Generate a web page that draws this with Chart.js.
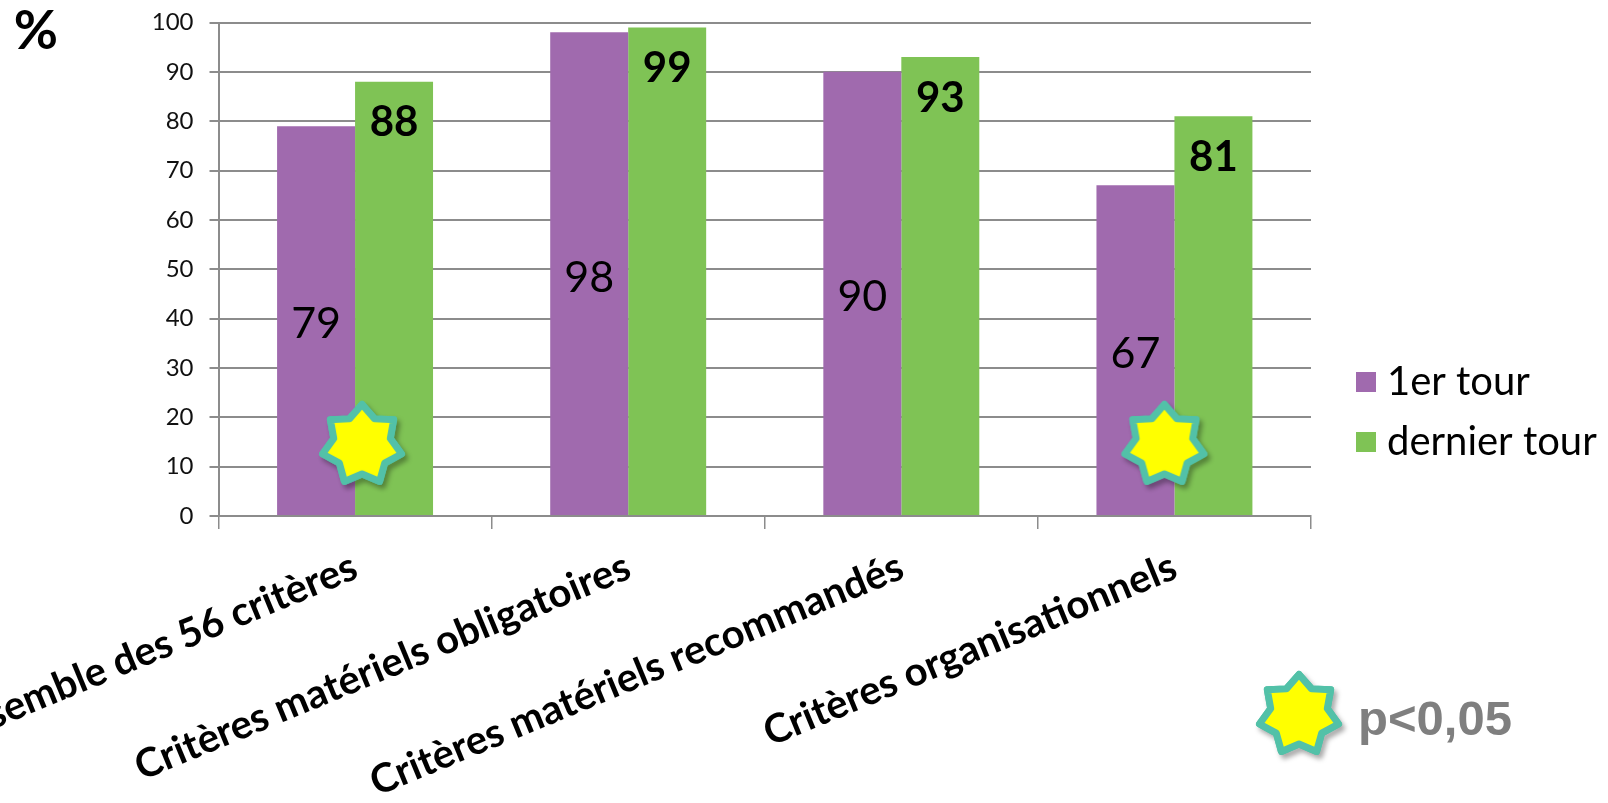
<!DOCTYPE html>
<html>
<head>
<meta charset="utf-8">
<title>Critères</title>
<script src="https://cdn.jsdelivr.net/npm/chart.js@4/dist/chart.umd.min.js"></script>
<style>
  body { margin: 0; background: #fff; }
  canvas { display: block; }
</style>
</head>
<body>
<canvas id="myChart" width="1608" height="803"></canvas>
<script>
const categories = [
  'Ensemble des 56 critères',
  'Critères matériels obligatoires',
  'Critères matériels recommandés',
  'Critères organisationnels'
];
const premierTour = [79, 98, 90, 67];
const dernierTour = [88, 99, 93, 81];
const yTicks = [0, 10, 20, 30, 40, 50, 60, 70, 80, 90, 100];

// height of the stars on the categories with a significant difference
const starValues = [14.4, null, null, 14.4];

const PURPLE = '#a06aae';
const GREEN = '#7fc355';
const GRID = '#8c8c8c';
const FONT = 'Lato';

// seven pointed star, dx moves it sideways from the point it is drawn on
function makeStar(dx) {
  const c = document.createElement('canvas');
  c.width = 140;
  c.height = 110;
  const g = c.getContext('2d');
  g.translate(70 + dx, 55);
  g.beginPath();
  for (let i = 0; i < 14; i++) {
    const r = i % 2 ? 29 : 40.5;
    const a = i * Math.PI / 7;
    g.lineTo(r * Math.sin(a), -r * Math.cos(a));
  }
  g.closePath();
  g.shadowColor = 'rgba(0,0,0,0.35)';
  g.shadowBlur = 5;
  g.shadowOffsetX = 3;
  g.shadowOffsetY = 4;
  g.lineJoin = 'round';
  g.lineWidth = 7;
  g.strokeStyle = '#52c1a8';
  g.stroke();
  g.shadowColor = 'transparent';
  g.fillStyle = '#ffff00';
  g.fill();
  g.stroke();
  return c;
}

function makeSquare(color) {
  const c = document.createElement('canvas');
  c.width = 20;
  c.height = 20;
  const g = c.getContext('2d');
  g.fillStyle = color;
  g.fillRect(0, 0, 20, 20);
  return c;
}

const keyStar = makeStar(0);

// value labels in the bars, the % sign and the p value key
const extras = {
  id: 'extras',
  afterLayout(chart) {
    // the legend sits away from the plot, not against it
    chart.legend.left = 1345;
    chart.legend.right = 1608;
    chart.legend.top += 1.5;
  },
  afterDatasetsDraw(chart) {
    const ctx = chart.ctx;
    ctx.save();
    ctx.textAlign = 'center';
    ctx.textBaseline = 'middle';
    ctx.fillStyle = '#000';

    ctx.font = '400 43px ' + FONT;
    chart.getDatasetMeta(0).data.forEach((bar, i) => {
      ctx.fillText(premierTour[i], bar.x, (bar.y + bar.base) / 2 + 4);
    });

    ctx.font = 'bold 42px ' + FONT;
    chart.getDatasetMeta(1).data.forEach((bar, i) => {
      ctx.fillText(dernierTour[i], bar.x, bar.y + 41);
    });

    ctx.font = 'bold 54px ' + FONT;
    ctx.fillText('%', 36, 32);

    ctx.drawImage(keyStar, 1299 - 70, 715 - 55);
    ctx.textAlign = 'left';
    ctx.fillStyle = '#7f7f7f';
    ctx.font = 'bold 49px "Liberation Sans"';
    ctx.fillText('p<0,05', 1358, 721);
    ctx.restore();
  }
};

const data = {
  labels: categories,
  datasets: [
    { label: '1er tour', data: premierTour, backgroundColor: PURPLE, order: 1 },
    { label: 'dernier tour', data: dernierTour, backgroundColor: GREEN, order: 1 },
    {
      type: 'line',
      label: 'p<0,05',
      data: starValues,
      showLine: false,
      pointStyle: [makeStar(7), null, null, makeStar(-10)],
      order: 0
    }
  ]
};

const config = {
  type: 'bar',
  data: data,
  plugins: [extras],
  options: {
    responsive: false,
    animation: false,
    layout: { padding: { top: 22.5, bottom: 3.5 } },
    datasets: { bar: { barPercentage: 1, categoryPercentage: 0.571 } },
    scales: {
      x: {
        grid: { color: GRID, lineWidth: 1.5, drawOnChartArea: false, tickLength: 13 },
        border: { color: GRID, width: 2 },
        ticks: {
          color: '#000',
          font: { family: FONT, size: 40, weight: 'bold' },
          minRotation: 22.5,
          maxRotation: 22.5,
          autoSkip: false,
          padding: 14
        },
        afterFit(scale) {
          scale.height = 283.5;
          scale.paddingLeft = 0;
          scale.paddingRight = 297;
        }
      },
      y: {
        min: 0,
        max: 100,
        grid: { color: GRID, lineWidth: 2, tickLength: 9 },
        border: { color: GRID, width: 2 },
        afterBuildTicks(scale) {
          scale.ticks = yTicks.map(v => ({ value: v }));
        },
        ticks: {
          color: '#111',
          font: { family: FONT, size: 24, weight: 400 },
          padding: 16
        },
        afterFit(scale) {
          scale.width = 218.5;
          scale.paddingTop = 0;
          scale.paddingBottom = 0;
        }
      }
    },
    plugins: {
      tooltip: { enabled: false },
      legend: {
        position: 'right',
        labels: {
          color: '#000',
          font: { family: FONT, size: 40, weight: 400 },
          padding: 20,
          usePointStyle: true,
          pointStyleWidth: 2,
          filter: item => item.datasetIndex < 2,
          generateLabels(chart) {
            return Chart.defaults.plugins.legend.labels.generateLabels(chart).map(item => {
              item.pointStyle = makeSquare(chart.data.datasets[item.datasetIndex].backgroundColor || '#000');
              return item;
            });
          }
        }
      }
    }
  }
};

document.fonts.load('400 24px Lato').finally(() => {
  const myChart = new Chart(document.getElementById('myChart'), config);
});
</script>
</body>
</html>
